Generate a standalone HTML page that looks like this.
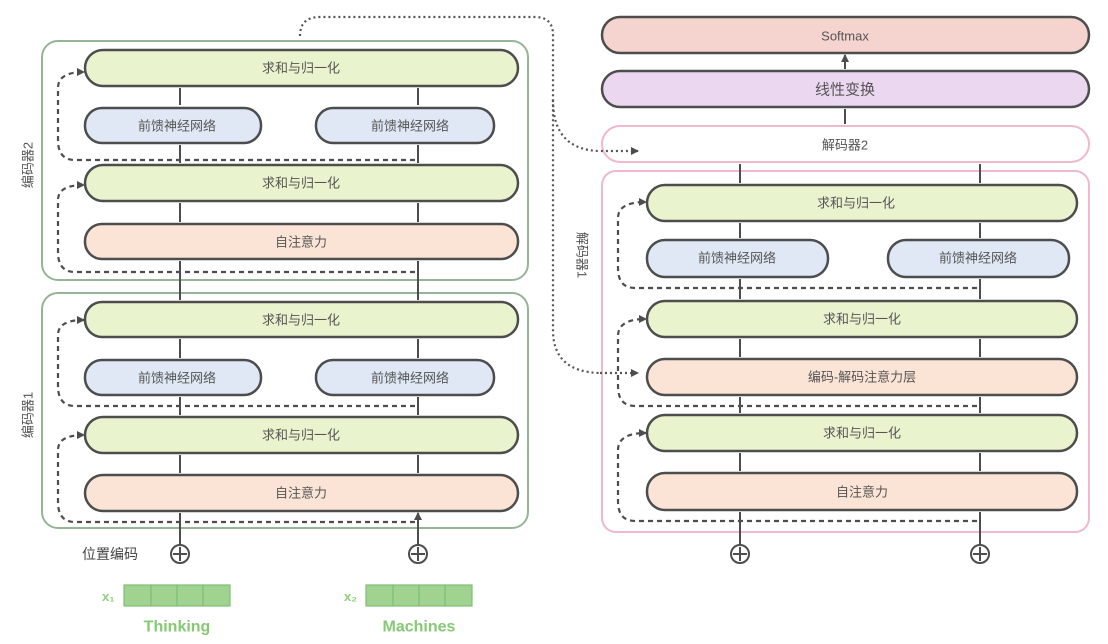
<!DOCTYPE html>
<html><head><meta charset="utf-8"><style>
body{margin:0;background:#fff;}
svg{display:block;font-family:"Liberation Sans","Noto Sans CJK SC",sans-serif;}
.t{font-size:13px;fill:#555;text-anchor:middle;dominant-baseline:central;}
.g{fill:#e9f4cf;stroke:#4d4d4d;stroke-width:2.5}
.b{fill:#dfe8f4;stroke:#4d4d4d;stroke-width:2.5}
.p{fill:#fbe4d6;stroke:#4d4d4d;stroke-width:2.5}
.ar{stroke:#4d4d4d;stroke-width:2;fill:none}
.d{stroke:#4d4d4d;stroke-width:2.2;fill:none;stroke-dasharray:5 4}
.o{stroke:#555;stroke-width:2.2;fill:none;stroke-dasharray:2 3}
</style></head><body>
<svg width="1108" height="644" viewBox="0 0 1108 644">
<defs>
<marker id="m" markerWidth="8" markerHeight="8" refX="7" refY="4" orient="auto" markerUnits="userSpaceOnUse"><path d="M0,0 L8,4 L0,8 z" fill="#4d4d4d"/></marker>
</defs>
<!-- encoder outer boxes -->
<rect x="42" y="41" width="486" height="239" rx="16" fill="none" stroke="#96b596" stroke-width="2"/>
<rect x="42" y="293" width="486" height="235" rx="16" fill="none" stroke="#96b596" stroke-width="2"/>
<text class="t" transform="translate(28,165) rotate(-90)">编码器2</text>
<text class="t" transform="translate(28,415) rotate(-90)">编码器1</text>
<!-- decoder outer -->
<rect x="602" y="126" width="487" height="36" rx="18" fill="#fff" stroke="#efb8cc" stroke-width="2"/>
<rect x="602" y="171" width="487" height="361" rx="14" fill="none" stroke="#efb8cc" stroke-width="2"/>
<text class="t" transform="translate(582,255) rotate(90)">解码器1</text>

<g id="vlines">
<!-- left arrows x=180, 418 -->
<path class="ar" marker-end="url(#m)" d="M180,105 V88 M418,105 V88 M180,163 V145 M418,163 V145 M180,222 V203 M418,222 V203 M180,300 V261 M418,300 V261 M180,358 V339 M418,358 V339 M180,415 V397 M418,415 V397 M180,473 V455 M418,473 V455 M180,544 V513 M418,544 V513"/>
<path class="ar" marker-end="url(#m)" d="M740,238 V223 M980,238 V223 M740,299 V279 M980,299 V279 M740,357 V339 M980,357 V339 M740,413 V397 M980,413 V397 M740,471 V453 M980,471 V453 M740,544 V512 M980,544 V512 M740,183 V164 M980,183 V164 M845,124 V109 M845,69 V55"/>
</g>
<!-- dashed residuals -->
<path class="d" marker-end="url(#m)" d="M415,160 H75 Q58,160 58,140 V88 Q58,72 84,72"/>
<path class="d" marker-end="url(#m)" d="M415,272 H75 Q58,272 58,252 V200 Q58,185 84,185"/>
<path class="d" marker-end="url(#m)" d="M415,406 H75 Q58,406 58,386 V335 Q58,320 84,320"/>
<path class="d" marker-end="url(#m)" d="M415,522 H75 Q58,522 58,502 V450 Q58,435 84,435"/>
<path class="d" marker-end="url(#m)" d="M977,288 H635 Q618,288 618,268 V218 Q618,202 646,202"/>
<path class="d" marker-end="url(#m)" d="M977,406 H635 Q618,406 618,386 V336 Q618,319 646,319"/>
<path class="d" marker-end="url(#m)" d="M977,521 H635 Q618,521 618,501 V450 Q618,433 646,433"/>
<!-- dotted encoder->decoder -->
<path class="o" d="M300,36 Q300,17 320,17 H535 Q553,17 553,35 V330 Q553,372 600,373"/>
<path class="o" marker-end="url(#m)" d="M553,100 Q553,150 600,151 H638"/>
<path class="o" marker-end="url(#m)" d="M600,373 H638"/>

<!-- encoder 2 -->
<rect class="g" x="85" y="50" width="433" height="36" rx="18"/><text class="t" x="301" y="68">求和与归一化</text>
<rect class="b" x="85" y="108" width="176" height="35" rx="17"/><text class="t" x="177" y="126">前馈神经网络</text>
<rect class="b" x="316" y="108" width="178" height="35" rx="17"/><text class="t" x="410" y="126">前馈神经网络</text>
<rect class="g" x="85" y="165" width="433" height="36" rx="18"/><text class="t" x="301" y="183">求和与归一化</text>
<rect class="p" x="85" y="224" width="433" height="35" rx="17"/><text class="t" x="301" y="242">自注意力</text>
<!-- encoder 1 -->
<rect class="g" x="85" y="302" width="433" height="35" rx="17"/><text class="t" x="301" y="320">求和与归一化</text>
<rect class="b" x="85" y="360" width="176" height="35" rx="17"/><text class="t" x="177" y="378">前馈神经网络</text>
<rect class="b" x="316" y="360" width="178" height="35" rx="17"/><text class="t" x="410" y="378">前馈神经网络</text>
<rect class="g" x="85" y="417" width="433" height="36" rx="18"/><text class="t" x="301" y="435">求和与归一化</text>
<rect class="p" x="85" y="475" width="433" height="36" rx="18"/><text class="t" x="301" y="493">自注意力</text>

<!-- right column -->
<rect x="602" y="17" width="487" height="36" rx="18" fill="#f5d3cf" stroke="#4d4d4d" stroke-width="2.5"/><text class="t" x="845" y="36">Softmax</text>
<rect x="602" y="71" width="487" height="36" rx="18" fill="#ebd8f0" stroke="#4d4d4d" stroke-width="2.5"/><text class="t" x="845" y="90" style="font-size:15px">线性变换</text>
<text class="t" x="845" y="145">解码器2</text>
<rect class="g" x="647" y="185" width="430" height="36" rx="18"/><text class="t" x="856" y="203">求和与归一化</text>
<rect class="b" x="647" y="240" width="181" height="37" rx="18"/><text class="t" x="737" y="258">前馈神经网络</text>
<rect class="b" x="888" y="240" width="181" height="37" rx="18"/><text class="t" x="978" y="258">前馈神经网络</text>
<rect class="g" x="647" y="301" width="430" height="36" rx="18"/><text class="t" x="862" y="319">求和与归一化</text>
<rect class="p" x="647" y="359" width="430" height="36" rx="18"/><text class="t" x="862" y="377">编码-解码注意力层</text>
<rect class="g" x="647" y="415" width="430" height="36" rx="18"/><text class="t" x="862" y="433">求和与归一化</text>
<rect class="p" x="647" y="473" width="430" height="37" rx="18"/><text class="t" x="862" y="492">自注意力</text>

<!-- plus circles -->
<g fill="#fff" stroke="#4d4d4d" stroke-width="2">
<circle cx="180" cy="554" r="9"/><circle cx="418" cy="554" r="9"/><circle cx="740" cy="554" r="9"/><circle cx="980" cy="554" r="9"/>
</g>
<path stroke="#4d4d4d" stroke-width="2" d="M173,554H187M180,547V561M411,554H425M418,547V561M733,554H747M740,547V561M973,554H987M980,547V561"/>
<text class="t" x="110" y="554" style="font-size:14px;fill:#444">位置编码</text>
<!-- embeddings -->
<g fill="#9fd38f" stroke="#7fbf73" stroke-width="1.2">
<rect x="124" y="585" width="27" height="21"/><rect x="151" y="585" width="26" height="21"/><rect x="177" y="585" width="26" height="21"/><rect x="203" y="585" width="27" height="21"/>
<rect x="366" y="585" width="27" height="21"/><rect x="393" y="585" width="26" height="21"/><rect x="419" y="585" width="26" height="21"/><rect x="445" y="585" width="27" height="21"/>
</g>
<text x="102" y="601" style="font-size:13px;fill:#8fcf7f;font-weight:bold">x₁</text>
<text x="344" y="601" style="font-size:13px;fill:#8fcf7f;font-weight:bold">x₂</text>
<text class="t" x="177" y="627" style="font-size:16px;fill:#86c974;font-weight:bold">Thinking</text>
<text class="t" x="419" y="627" style="font-size:16px;fill:#86c974;font-weight:bold">Machines</text>
</svg>
</body></html>
